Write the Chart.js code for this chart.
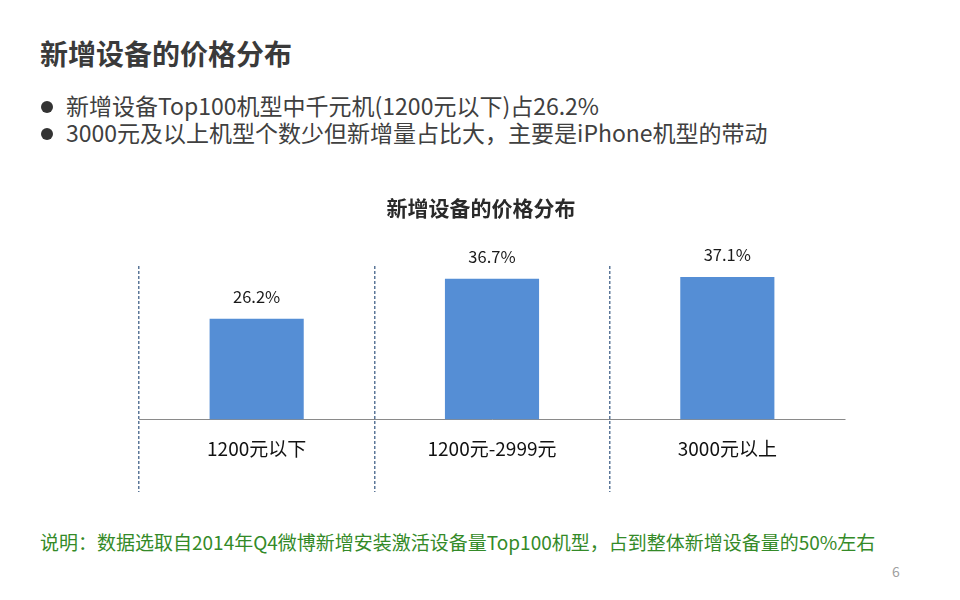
<!DOCTYPE html>
<html>
<head>
<meta charset="utf-8">
<script src="https://cdn.jsdelivr.net/npm/chart.js@4/dist/chart.umd.min.js"></script>
<style>
  html, body { margin: 0; padding: 0; background: #fff; }
  body { width: 960px; height: 600px; position: relative; overflow: hidden;
         font-family: "Noto Sans CJK SC", "Noto Sans", sans-serif; }
  .page-title { position: absolute; left: 40px; top: 33px; font-size: 28px; font-weight: bold; color: #3a3a3a; }
  .bullets { position: absolute; left: 40px; top: 92px; font-size: 23px; color: #404040; line-height: 27px; }
  .bullets div { position: relative; padding-left: 26px; }
  .bullets div::before { content: ""; position: absolute; left: 1px; top: 9px; width: 12px; height: 12px;
                         border-radius: 50%; background: #333; }
  .chart-title { position: absolute; left: 0; width: 962px; top: 192px; text-align: center;
                 font-size: 21px; font-weight: bold; color: #2a2a2a; }
  .note { position: absolute; left: 40px; top: 528px; font-size: 19px; color: #348a28; }
  .pagenum { position: absolute; left: 892px; top: 561px; font-size: 14px; color: #a0a0a0; }
  #chart-wrap { position: absolute; left: 0; top: 185px; width: 960px; height: 330px; }
</style>
</head>
<body>
<div class="page-title">新增设备的价格分布</div>
<div class="bullets">
  <div>新增设备Top100机型中千元机(1200元以下)占26.2%</div>
  <div>3000元及以上机型个数少但新增量占比大，主要是iPhone机型的带动</div>
</div>
<div id="chart-wrap"><canvas id="priceChart" width="960" height="330"></canvas></div>
<div class="chart-title">新增设备的价格分布</div>
<div class="note">说明：数据选取自2014年Q4微博新增安装激活设备量Top100机型，占到整体新增设备量的50%左右</div>
<div class="pagenum">6</div>

<script>
// chart data
const categories = ['1200元以下', '1200元-2999元', '3000元以上'];
const shareValues = [26.2, 36.7, 37.1];

// value labels above each bar
const barLabels = {
  id: 'barLabels',
  afterDatasetsDraw(chart) {
    const ctx = chart.ctx;
    const meta = chart.getDatasetMeta(0);
    ctx.save();
    ctx.font = '16.5px "Noto Sans CJK SC", sans-serif';
    ctx.fillStyle = '#1a1a1a';
    ctx.textAlign = 'center';
    ctx.textBaseline = 'alphabetic';
    meta.data.forEach((bar, i) => {
      ctx.fillText(shareValues[i].toFixed(1) + '%', bar.x, bar.y - 16);
    });
    ctx.restore();
  }
};

new Chart(document.getElementById('priceChart'), {
  type: 'bar',
  data: {
    labels: categories,
    datasets: [{
      data: shareValues,
      backgroundColor: '#558ed5',
      categoryPercentage: 1,
      barPercentage: 0.4
    }]
  },
  options: {
    responsive: false,
    animation: false,
    // chart area spans 266..492 vertically, 139..845 horizontally
    layout: { padding: { left: 139, right: 115, top: 81, bottom: 23 } },
    plugins: {
      legend: { display: false },
      tooltip: { enabled: false }
    },
    scales: {
      // negative min so the dashed separators run down past the labels
      y: { display: false, min: -19, max: 40 },
      x: {
        position: { y: 0 },
        offset: true,
        grid: {
          offset: true,
          drawTicks: false,
          color: (c) => c.tick ? '#5b7698' : 'rgba(0,0,0,0)',
          lineWidth: 1.5
        },
        border: { display: true, color: '#8a8a8a', width: 1, dash: [3, 2] },
        ticks: {
          padding: 18,
          color: '#111',
          font: { family: '"Noto Sans CJK SC", sans-serif', size: 19 }
        }
      }
    }
  },
  plugins: [barLabels]
});
</script>
</body>
</html>
